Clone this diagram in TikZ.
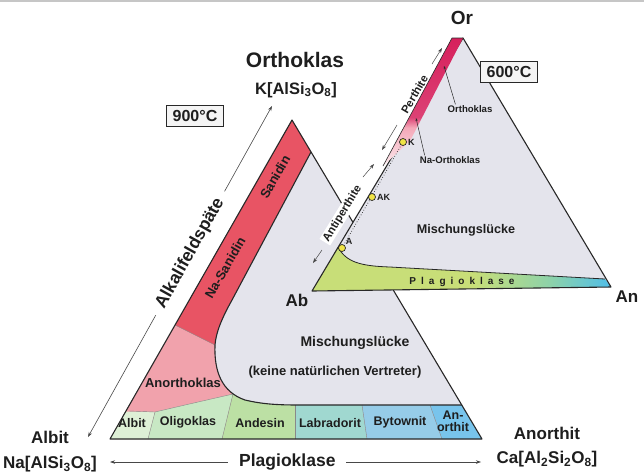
\documentclass[tikz,border=0pt]{standalone}
\usepackage{fontspec}
\setmainfont{Liberation Sans}
\usetikzlibrary{arrows.meta}

\newcommand\fsz[1]{\fontsize{#1}{#1}\selectfont}
\newcommand\lsp{\hspace{5pt}}

\definecolor{gapgray}{RGB}{228,228,236}
\definecolor{sanred}{RGB}{232,84,100}
\definecolor{anopink}{RGB}{241,162,172}
\definecolor{albcol}{RGB}{222,240,214}
\definecolor{oligcol}{RGB}{200,232,196}
\definecolor{andcol}{RGB}{188,224,164}
\definecolor{labcol}{RGB}{160,216,208}
\definecolor{bytcol}{RGB}{150,204,232}
\definecolor{anocol}{RGB}{120,196,236}
\definecolor{edgecol}{RGB}{40,40,40}
\definecolor{txtcol}{RGB}{30,30,30}
\definecolor{boxfill}{RGB}{244,244,244}
\definecolor{plgA}{RGB}{200,222,120}
\definecolor{plgB}{RGB}{140,210,170}
\definecolor{plgC}{RGB}{80,190,232}
\definecolor{orcrim}{RGB}{214,32,92}
\definecolor{orpink}{RGB}{244,168,184}
\definecolor{orlight}{RGB}{252,232,236}
\definecolor{ptyel}{RGB}{240,228,70}

\pgfdeclarehorizontalshading{plagshade}{100bp}{color(0bp)=(plgA); color(25bp)=(plgA); color(52bp)=(plgA); color(65bp)=(plgB); color(75bp)=(plgC); color(100bp)=(plgC)}
\pgfdeclareverticalshading{orshade}{100bp}{color(0bp)=(orlight); color(25bp)=(orlight); color(40bp)=(orpink); color(44bp)=(orcrim!85); color(75bp)=(orcrim); color(100bp)=(orcrim)}

\begin{document}
\begin{tikzpicture}[x=1pt, y=-1pt, >={Stealth[length=5pt,width=3.5pt]},
  lbl/.style={font=\bfseries\fsz{#1}, text=txtcol, inner sep=1pt},
  edge/.style={draw=edgecol, line width=1.1pt, line join=round},
  cell/.style={draw=edgecol!55, line width=0.4pt},
  tbox/.style={draw=edgecol, fill=boxfill, line width=0.9pt, minimum width=57pt, minimum height=21pt, inner sep=0pt, font=\bfseries\fsz{16}, text=txtcol},
  ptmark/.style={circle, draw=edgecol, fill=ptyel, line width=0.7pt, inner sep=0pt, minimum size=7pt},
  pointer/.style={draw=edgecol, line width=0.5pt, -{Stealth[length=3pt,width=2.2pt]}},
  axisline/.style={draw=edgecol!85, line width=0.6pt, <->},
  sidearrow/.style={draw=edgecol!85, line width=0.5pt, ->}]
\useasboundingbox (0,0) rectangle (644,475);
\fill[gray!45] (0,0) rectangle (644,2);

% 900 C triangle
\coordinate (bl) at (110,439);
\coordinate (bt) at (292,120);
\coordinate (br) at (482,439);
\begin{scope}
\clip (bl) -- (bt) -- (br) -- cycle;
\fill[anopink] (bl) -- (bt) -- (br) -- cycle;
% Sanidin band
\fill[sanred] (90,100) -- (500,100) -- (500,380) -- (255,365) -- (215,345) -- (175,325) -- (90,320) -- cycle;
% Albit, Oligoklas, Andesin
\fill[albcol] (90,411) -- (155,412) -- (148,439) -- (90,445) -- cycle;
\fill[oligcol] (148,439) -- (155,412) -- (185,405) -- (233,394) -- (222,439) -- cycle;
\fill[andcol] (222,439) -- (233,394) -- (240,380) -- (296,380) -- (296,439) -- cycle;
% Mischungsluecke
\fill[gapgray] (311,152) -- (232,300) .. controls (222,318) and (216,332) .. (215,345)
  .. controls (214,372) and (222,392) .. (245,400) .. controls (262,404) and (276,405) .. (300,405)
  -- (500,405) -- (500,100) -- cycle;
% Labradorit, Bytownit, Anorthit
\fill[labcol] (295,405) -- (362,405) -- (367,439) -- (295,439) -- cycle;
\fill[bytcol] (362,405) -- (430,405) -- (442,439) -- (367,439) -- cycle;
\fill[anocol] (430,405) -- (500,405) -- (500,445) -- (442,439) -- cycle;
\end{scope}

% cell borders
\draw[cell] (175,325) -- (215,345);
\draw[cell] (129,411) -- (155,412) -- (185,405) -- (233,394);
\draw[cell] (155,412) -- (148,439);
\draw[cell] (233,394) -- (222,439);
\draw[cell] (295,405) -- (295,439);
\draw[cell] (362,405) -- (367,439);
\draw[cell] (430,405) -- (442,439);
\draw[edge] (311,152) -- (232,300) .. controls (222,318) and (216,332) .. (215,345)
  .. controls (214,372) and (222,392) .. (245,400) .. controls (262,404) and (276,405) .. (300,405)
  -- (462,405);
\draw[edge] (bl) -- (bt) -- (br) -- cycle;

% labels 900 C
\node[lbl=13, rotate=60] (sanidin) at (275,177) {Sanidin};
\node[lbl=13, rotate=60] (nasanidin) at (225,268) {Na-Sanidin};
\node[lbl=13] (anorthoklas) at (183,383) {Anorthoklas};
\node[lbl=14] (gapbig) at (355,343) {Mischungslücke};
\node[lbl=13] (gapnote) at (335,372) {(keine natürlichen Vertreter)};
\node[lbl=12.5] (albitcell) at (132,423) {Albit};
\node[lbl=12.5] (oligcell) at (188,422) {Oligoklas};
\node[lbl=12.5] (andcell) at (260,423) {Andesin};
\node[lbl=12.5] (labcell) at (330,423) {Labradorit};
\node[lbl=12.5] (bytcell) at (400,422) {Bytownit};
\node[lbl=12.5, align=center] (anocell) at (453,421) {An-\\orthit};
\node[tbox] (t900) at (195,116) {900°C};

% end members
\node[lbl=21] (orthtitle) at (295,60) {Orthoklas};
\node[lbl=16.5] (orthform) at (296,90) {K[AlSi\textsubscript{3}O\textsubscript{8}]};
\node[lbl=17] (albname) at (50,437) {Albit};
\node[lbl=17] (albform) at (50,464) {Na[AlSi\textsubscript{3}O\textsubscript{8}]};
\node[lbl=17] (anname) at (547,433) {Anorthit};
\node[lbl=17] (anform) at (547,459) {Ca[Al\textsubscript{2}Si\textsubscript{2}O\textsubscript{8}]};

% axes
\coordinate (afbot) at (88,437);
\coordinate (aftop) at (272,106);
\draw[axisline] (afbot) -- (aftop) node[lbl=17.5, pos=0.555, sloped, fill=white, inner xsep=9pt] (alkali) {Alkalifeldspäte};
\coordinate (plleft) at (110,462);
\coordinate (plright) at (481,462);
\draw[axisline] (plleft) -- (plright) node[lbl=17.5, pos=0.478, fill=white, inner xsep=11pt] (plagaxis) {Plagioklase};

% 600 C triangle
\coordinate (sab) at (312,291);
\coordinate (sor) at (463,38);
\coordinate (san) at (611,287);
\fill[gapgray] (sab) -- (sor) -- (san) -- cycle;
\shade[shading=plagshade] (338,247) .. controls (346,262) and (360,266) .. (390,267) -- (605,279) -- (san) -- (sab) -- cycle;
\draw[edge, line width=0.8pt] (338,247) .. controls (346,262) and (360,266) .. (390,267) -- (605,279);
\draw[edge] (sab) -- (sor) -- (san) -- cycle;
% Orthoklas strip
\shade[shading=orshade] (383,166) -- (452,38) -- (sor) -- (410,141) -- cycle;
\draw[edgecol, line width=0.6pt] (383,166) -- (452,38) -- (sor);

% points on the Ab-Or side
\coordinate (kc) at (403,142);
\coordinate (akc) at (372,197);
\coordinate (ac) at (342,248);
\draw[edgecol, dotted, line width=0.7pt] (kc) -- (ac);
\node[ptmark] (kpt) at (kc) {};
\node[ptmark] (akpt) at (akc) {};
\node[ptmark] (apt) at (ac) {};
\node[lbl=9, anchor=west] (klab) at (kpt.east) {K};
\node[lbl=9, anchor=west] (aklab) at (akpt.east) {AK};
\node[lbl=9, anchor=south west] (alab) at (apt.north east) {A};

% labels 600 C
\node[lbl=12.6] (gapsmall) at (466,230) {Mischungslücke};
\node[lbl=10] (plagsmall) at (462,282) {P\lsp l\lsp a\lsp g\lsp i\lsp o\lsp k\lsp l\lsp a\lsp s\lsp e};
\node[lbl=9.6] (orsmall) at (470,109) {Orthoklas};
\node[lbl=9.6] (naor) at (450,160) {Na-Orthoklas};
\coordinate (orpt) at (444,66);
\coordinate (naorpt) at (416,118);
\draw[pointer] ([xshift=9pt]orsmall.north west) -- (orpt);
\draw[pointer] ([xshift=6pt]naor.north west) -- (naorpt);
\node[lbl=19] (ortop) at (462,18) {Or};
\node[lbl=17] (ablab) at (297,300) {Ab};
\node[lbl=17] (anlab) at (627,297) {An};
\node[tbox] (t600) at (509,72) {600°C};

% Perthite
\node[lbl=11.3, rotate=59.5] (perth) at (414.5,94.5) {Perthite};
\coordinate (pein1) at (397,125);
\coordinate (pebot) at (382,150);
\coordinate (pein2) at (432,64);
\coordinate (petop) at (442,48);
\draw[sidearrow] (pein1) -- (pebot);
\draw[sidearrow] (pein2) -- (petop);
% Antiperthite
\node[lbl=11.3, rotate=58.4, fill=white, inner xsep=2pt] (aperth) at (342.5,213.5) {Antiperthite};
\coordinate (apin1) at (322,250);
\coordinate (apbot) at (313,263);
\coordinate (apin2) at (363,177);
\coordinate (aptop) at (374,164);
\draw[sidearrow] (apin1) -- (apbot);
\draw[sidearrow] (apin2) -- (aptop);
\end{tikzpicture}
\end{document}
